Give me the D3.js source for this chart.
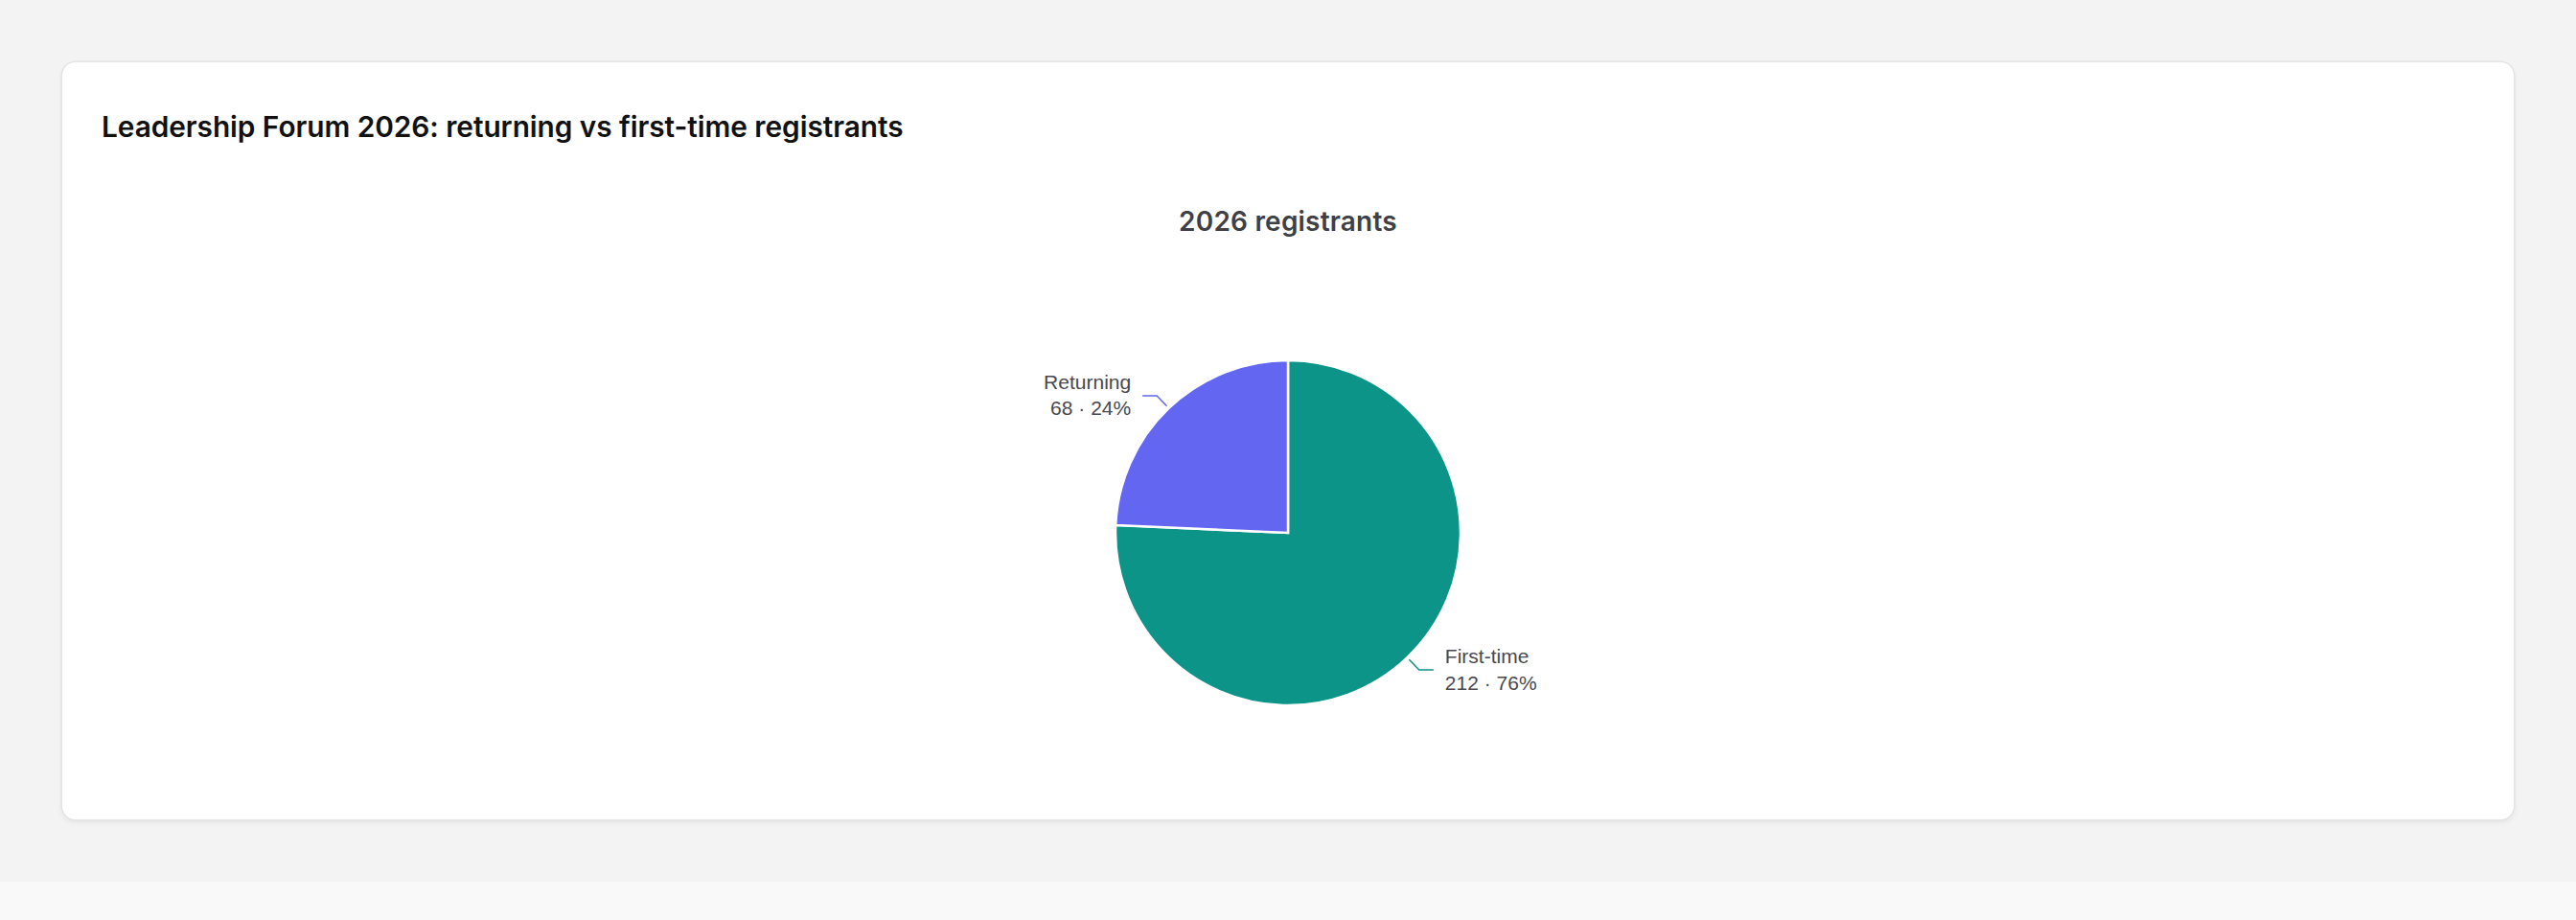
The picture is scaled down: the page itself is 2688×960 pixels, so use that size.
<!DOCTYPE html>
<html>
<head>
<meta charset="utf-8">
<script src="https://cdn.jsdelivr.net/npm/d3@7"></script>
<style>
  html, body { margin: 0; padding: 0; background: #f9f9f9; }
  .page { width: 2688px; height: 920px; background: #f3f3f3; position: relative; }
  .card {
    position: absolute; left: 65px; top: 65px; width: 2558px; height: 790px;
    background: #fff; border-radius: 14px;
    box-shadow: 0 0 0 1.5px #e4e4e4, 0 3px 6px rgba(0,0,0,0.08);
  }
  svg { position: absolute; left: 0; top: 0; }
</style>
</head>
<body>
<div class="page"><div class="card" id="card"></div></div>
<script>
var width = 2558;
var height = 790;
var radius = 180;

var categories = ['First-time', 'Returning'];
var counts = [212, 68];
var colors = ['#0d9488', '#6366f1'];

var total = d3.sum(counts);
var data = categories.map(function(c, i) {
  return { name: c, value: counts[i], color: colors[i] };
});

var svg = d3.select('#card').append('svg')
  .attr('width', width)
  .attr('height', height);

svg.append('text')
  .attr('x', 41)
  .attr('y', 78)
  .attr('font-family', 'Inter, sans-serif')
  .attr('font-weight', 600)
  .attr('font-size', 29.8)
  .attr('letter-spacing', -0.05)
  .attr('fill', '#111')
  .text('Leadership Forum 2026: returning vs first-time registrants');

svg.append('text')
  .attr('x', width / 2)
  .attr('y', 176)
  .attr('text-anchor', 'middle')
  .attr('font-family', 'Inter, sans-serif')
  .attr('font-weight', 600)
  .attr('font-size', 28)
  .attr('letter-spacing', 0.2)
  .attr('fill', '#3f3f46')
  .text('2026 registrants');

var g = svg.append('g')
  .attr('transform', 'translate(' + (width / 2) + ',491)');

var pie = d3.pie().sort(null).value(function(d) { return d.value; });
var arc = d3.arc().innerRadius(0).outerRadius(radius);
var arcs = pie(data);

g.selectAll('path.slice')
  .data(arcs)
  .enter().append('path')
  .attr('class', 'slice')
  .attr('d', arc)
  .attr('fill', function(d) { return d.data.color; })
  .attr('stroke', '#fff')
  .attr('stroke-width', 2.5);

function pointAt(a, r) {
  return [Math.sin(a) * r, -Math.cos(a) * r];
}

arcs.forEach(function(d) {
  var mid = (d.startAngle + d.endAngle) / 2;
  var p0 = pointAt(mid, radius + 3);
  var p1 = pointAt(mid, radius + 18);
  var right = p1[0] > 0;
  var p2 = [p1[0] + (right ? 15 : -15), p1[1]];

  g.append('polyline')
    .attr('points', [p0, p1, p2].map(function(p) { return p.join(','); }).join(' '))
    .attr('fill', 'none')
    .attr('stroke', d.data.color)
    .attr('stroke-width', 1.5);

  var tx = p2[0] + (right ? 12 : -12);
  var label = g.append('text')
    .attr('text-anchor', right ? 'start' : 'end')
    .attr('font-family', 'Liberation Sans, Arial, sans-serif')
    .attr('font-size', 21)
    .attr('fill', '#484850');
  label.append('tspan')
    .attr('x', tx)
    .attr('y', p1[1] - 7)
    .text(d.data.name);
  label.append('tspan')
    .attr('x', tx)
    .attr('y', p1[1] + 20.5)
    .text(d.data.value + ' · ' + Math.round(d.data.value / total * 100) + '%');
});
</script>
</body>
</html>
